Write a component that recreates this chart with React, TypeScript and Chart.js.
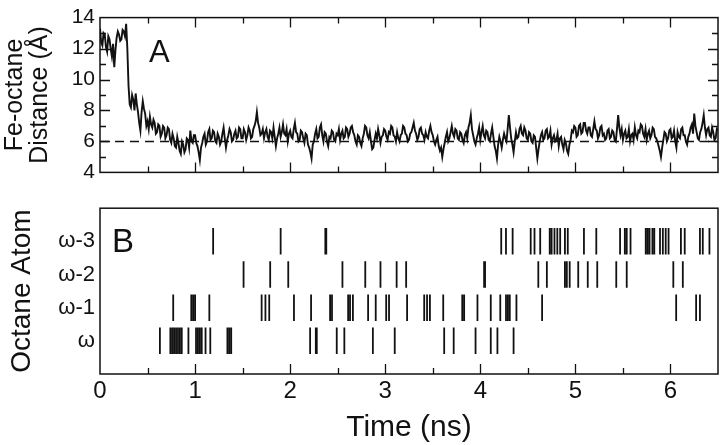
import React, { useEffect, useRef } from 'react';
import { Chart, registerables } from 'chart.js';

Chart.register(...registerables);

// ---------- data ----------
const TIME_MIN = 0;
const TIME_MAX = 6.5;
const TIME_STEP = 0.0125; // ns between samples of DISTANCE
const TIME_TICKS = [0, 1, 2, 3, 4, 5, 6];

// Fe–octane distance (Å), one row per 0.5 ns
const DISTANCE = [
  13.3, 12.4, 12.2, 13.0, 12.9, 12.1, 11.8, 12.8, 12.6, 12.0, 11.5, 12.3, 10.8, 11.9, 12.7, 13.1, 12.9, 12.5, 12.6, 13.2, 13.1, 12.8, 13.6, 12.0, 9.6, 8.4, 8.2, 9.0, 8.7, 8.0, 9.1, 8.4, 7.9, 7.2, 6.7, 7.9, 8.6, 8.1, 7.8, 7.0,
  7.3, 6.8, 7.6, 7.1, 6.9, 7.4, 7.2, 6.5, 6.6, 7.1, 7.0, 6.3, 6.5, 7.0, 6.9, 6.2, 6.4, 6.9, 6.8, 6.1, 5.9, 6.5, 6.2, 5.7, 5.6, 6.3, 5.9, 5.4, 5.2, 6.0, 5.8, 5.3, 5.5, 6.2, 6.1, 5.6, 6.7, 6.0, 5.9, 6.4,
  6.4, 5.9, 5.7, 5.3, 4.8, 5.6, 5.9, 6.3, 6.5, 5.8, 6.0, 6.6, 6.8, 6.1, 6.2, 6.7, 6.6, 6.0, 5.9, 6.5, 6.3, 5.8, 6.0, 6.5, 6.9, 6.2, 5.6, 6.1, 6.4, 6.8, 6.6, 6.0, 6.1, 6.5, 6.7, 6.2, 6.3, 6.9, 6.8, 6.2,
  6.2, 6.8, 6.6, 6.1, 6.4, 6.9, 6.7, 6.2, 6.3, 6.8, 7.0, 7.3, 7.9, 7.2, 6.9, 6.4, 6.5, 6.8, 6.2, 6.6, 6.8, 6.3, 6.1, 6.7, 6.6, 6.2, 6.9, 6.3, 5.7, 6.2, 6.5, 6.9, 6.3, 6.6, 7.1, 6.5, 6.4, 6.8, 6.0, 6.5,
  6.7, 6.3, 6.2, 6.8, 7.2, 6.6, 6.5, 6.0, 6.1, 6.7, 6.6, 6.2, 5.9, 6.5, 6.4, 5.8, 5.6, 5.3, 4.9, 5.8, 6.0, 6.5, 6.8, 6.2, 6.3, 6.9, 7.1, 6.4, 6.0, 6.6, 6.5, 6.0, 5.7, 6.3, 6.2, 6.7, 6.6, 6.1, 6.0, 6.5,
  6.4, 6.8, 6.1, 6.5, 6.7, 6.2, 6.3, 6.9, 6.8, 6.3, 6.5, 6.9, 7.0, 6.6, 6.4, 6.0, 5.8, 6.4, 6.3, 5.9, 5.7, 6.2, 6.5, 7.0, 6.9, 6.4, 6.2, 6.6, 6.0, 5.5, 5.6, 6.1, 6.5, 6.2, 6.8, 6.4, 5.9, 6.3, 6.4, 6.8,
  6.7, 6.3, 6.1, 6.6, 6.5, 7.0, 6.9, 6.4, 6.3, 6.0, 6.6, 6.2, 6.0, 6.4, 6.5, 7.0, 6.9, 6.5, 6.4, 6.0, 6.1, 6.5, 6.6, 6.9, 7.2, 6.7, 6.5, 6.1, 6.3, 6.8, 6.9, 6.5, 6.4, 6.1, 6.6, 6.3, 6.2, 6.7, 7.0, 6.6,
  6.4, 6.0, 5.8, 6.1, 6.3, 5.7, 5.4, 5.6, 5.0, 5.5, 5.9, 6.3, 6.6, 6.0, 6.2, 6.6, 7.0, 6.5, 6.3, 6.8, 6.7, 6.2, 6.1, 6.6, 6.5, 6.1, 5.9, 6.4, 6.6, 6.2, 6.9, 7.2, 7.7, 6.8, 6.4, 6.0, 5.8, 6.2, 6.5, 6.9,
  6.1, 6.6, 7.0, 6.4, 6.2, 6.7, 6.6, 6.1, 6.0, 6.5, 6.9, 6.3, 5.7, 5.4, 4.9, 5.8, 6.3, 6.0, 5.6, 6.1, 6.5, 6.2, 6.0, 6.8, 7.7, 6.9, 6.2, 5.8, 5.3, 6.0, 6.6, 6.2, 6.3, 6.8, 7.0, 6.5, 6.4, 6.9, 6.7, 6.2,
  6.1, 6.6, 6.5, 6.0, 5.9, 6.4, 6.3, 5.6, 4.9, 5.5, 6.0, 6.4, 6.6, 6.1, 6.2, 6.7, 6.8, 6.2, 6.3, 6.7, 5.8, 6.2, 6.4, 6.0, 6.1, 6.5, 5.7, 6.2, 6.3, 5.8, 5.5, 6.1, 5.9, 5.4, 5.2, 5.8, 6.1, 6.7, 6.6, 7.0,
  6.9, 6.3, 6.4, 7.0, 7.1, 6.5, 6.6, 7.2, 7.2, 6.7, 6.5, 6.9, 6.9, 6.4, 6.3, 6.8, 7.3, 6.8, 6.7, 6.2, 6.4, 6.9, 7.0, 6.4, 6.5, 6.1, 6.2, 6.7, 6.8, 6.2, 6.3, 6.7, 6.6, 6.1, 6.0, 6.8, 7.7, 6.9, 6.4, 6.8,
  6.1, 6.5, 6.7, 6.2, 6.3, 6.8, 6.0, 6.4, 6.5, 6.1, 6.9, 6.4, 6.2, 6.7, 6.6, 7.1, 7.0, 6.5, 6.3, 6.8, 6.1, 6.5, 6.7, 6.2, 6.4, 6.9, 6.8, 6.3, 6.2, 6.0, 5.7, 5.4, 5.0, 5.6, 6.1, 6.6, 6.5, 6.0, 6.2, 6.7,
  6.8, 6.2, 6.3, 6.7, 6.0, 5.6, 6.6, 6.3, 6.2, 6.8, 6.9, 6.4, 6.4, 6.0, 5.8, 6.3, 6.5, 6.9, 7.1, 6.5, 7.8, 7.0, 6.6, 6.2, 6.1, 6.6, 6.8, 7.2, 7.7, 6.9, 6.4, 6.8, 6.9, 6.4, 6.3, 6.9, 6.6, 6.1, 6.2, 6.8,
  6.7,
];
const REFERENCE_DISTANCE = 6;
const DISTANCE_TICKS = [4, 6, 8, 10, 12, 14];

// Panel B: contact events per octane atom (ns)
const ATOM_LABELS = ['ω', 'ω-1', 'ω-2', 'ω-3'];
const EVENTS_W = [
  0.63, 0.74, 0.76, 0.78, 0.8, 0.82, 0.84, 0.86, 0.93, 1.01, 1.03, 1.05, 1.07, 1.11, 1.16, 1.34, 1.36, 1.38,
  2.21, 2.27, 2.28, 2.49, 2.57, 2.87, 3.1, 3.62, 3.72, 3.95, 4.11, 4.18, 4.35,
];
const EVENTS_W1 = [
  0.77, 0.96, 0.98, 1.0, 1.15, 1.7, 1.74, 1.78, 2.04, 2.22, 2.42, 2.44, 2.61, 2.63, 2.66, 2.82, 2.9, 3.01, 3.04,
  3.23, 3.41, 3.44, 3.47, 3.61, 3.81, 3.83, 3.97, 4.11, 4.21, 4.27, 4.29, 4.31, 4.38, 4.65, 6.06, 6.27, 6.31,
];
const EVENTS_W2 = [
  1.51, 1.79, 1.98, 2.55, 2.79, 2.95, 3.12, 3.22, 4.04, 4.05, 4.61, 4.7, 4.89, 4.91, 4.94, 5.03, 5.13, 5.23,
  5.43, 5.54, 6.03, 6.13,
];
const EVENTS_W3 = [
  1.19, 1.9, 2.37, 2.38, 4.22, 4.27, 4.34, 4.53, 4.57, 4.63, 4.73, 4.75, 4.78, 4.81, 4.84, 4.89, 4.92, 5.09,
  5.22, 5.47, 5.52, 5.54, 5.58, 5.74, 5.76, 5.78, 5.81, 5.83, 5.89, 5.92, 5.95, 5.98, 6.11, 6.15, 6.31, 6.34,
  6.41,
];
const EVENT_ROWS = [EVENTS_W, EVENTS_W1, EVENTS_W2, EVENTS_W3];

// ---------- styling ----------
const FONT = "'Liberation Sans', Arial, Helvetica, sans-serif";
const INK = '#111';

type FrameOpts = {
  xSides: string[];
  ySides: string[];
  xStep: number;
  yStep: number;
  label: string;
  labelDx: number;
  labelDy: number;
  labelSize: number;
};

const framePlugin = {
  id: 'frameTicks',
  afterDatasetsDraw(chart: any, _args: any, opts: FrameOpts) {
    const { ctx, chartArea: a } = chart;
    const xs = chart.scales.x;
    const ys = chart.scales.y;
    ctx.save();
    ctx.strokeStyle = INK;
    ctx.lineWidth = 1.5;
    ctx.strokeRect(a.left, a.top, a.right - a.left, a.bottom - a.top);
    const MAJOR = 10;
    const MINOR = 6;
    ctx.lineWidth = 1.3;
    ctx.beginPath();
    if (opts.xSides.length) {
      const half = opts.xStep / 2;
      for (let v = xs.min + half; v < xs.max - 1e-6; v += half) {
        const r = (v - xs.min) / opts.xStep;
        const len = Math.abs(r - Math.round(r)) < 1e-6 ? MAJOR : MINOR;
        const px = Math.round(xs.getPixelForValue(v)) + 0.5;
        for (const s of opts.xSides) {
          if (s === 'bottom') { ctx.moveTo(px, a.bottom); ctx.lineTo(px, a.bottom - len); }
          else { ctx.moveTo(px, a.top); ctx.lineTo(px, a.top + len); }
        }
      }
    }
    if (opts.ySides.length) {
      const half = opts.yStep / 2;
      for (let v = ys.min + half; v < ys.max - 1e-6; v += half) {
        const r = (v - ys.min) / opts.yStep;
        const len = Math.abs(r - Math.round(r)) < 1e-6 ? MAJOR : MINOR;
        const py = Math.round(ys.getPixelForValue(v)) + 0.5;
        for (const s of opts.ySides) {
          if (s === 'left') { ctx.moveTo(a.left, py); ctx.lineTo(a.left + len, py); }
          else { ctx.moveTo(a.right, py); ctx.lineTo(a.right - len, py); }
        }
      }
    }
    ctx.stroke();
    ctx.fillStyle = INK;
    ctx.font = `${opts.labelSize}px ${FONT}`;
    ctx.textAlign = 'left';
    ctx.textBaseline = 'alphabetic';
    ctx.fillText(opts.label, a.left + opts.labelDx, a.top + opts.labelDy);
    ctx.restore();
  },
};

function TopPanel() {
  const ref = useRef<HTMLCanvasElement | null>(null);
  useEffect(() => {
    const points = DISTANCE.map((v, i) => ({ x: TIME_MIN + i * TIME_STEP, y: v }));
    const chart = new Chart(ref.current as HTMLCanvasElement, {
      type: 'line',
      data: {
        datasets: [
          {
            data: points,
            borderColor: INK,
            borderWidth: 1.9,
            pointRadius: 0,
            tension: 0,
          },
          {
            data: [
              { x: TIME_MIN, y: REFERENCE_DISTANCE },
              { x: TIME_MAX, y: REFERENCE_DISTANCE },
            ],
            borderColor: INK,
            borderWidth: 1.6,
            borderDash: [9, 6],
            pointRadius: 0,
          },
        ],
      },
      options: {
        responsive: false,
        animation: false,
        devicePixelRatio: 1,
        layout: { padding: { top: 10, bottom: 13, right: 2, left: 0 } },
        plugins: {
          legend: { display: false },
          tooltip: { enabled: false },
          frameTicks: {
            xSides: ['top', 'bottom'],
            ySides: ['left', 'right'],
            xStep: 1,
            yStep: 2,
            label: 'A',
            labelDx: 49,
            labelDy: 44,
            labelSize: 31,
          },
        } as any,
        scales: {
          x: {
            type: 'linear',
            min: TIME_MIN,
            max: TIME_MAX,
            display: false,
          },
          y: {
            type: 'linear',
            min: DISTANCE_TICKS[0],
            max: DISTANCE_TICKS[DISTANCE_TICKS.length - 1],
            afterFit: (s: any) => { s.width = 100; },
            grid: { display: false, drawTicks: false },
            border: { display: false },
            ticks: {
              stepSize: 2,
              padding: 5,
              color: INK,
              font: { family: FONT, size: 21 },
            },
            title: {
              display: true,
              text: ['Fe-octane', 'Distance (Å)'],
              color: INK,
              font: { family: FONT, size: 25, lineHeight: 1.0 },
              padding: { top: 3, bottom: 0 },
            },
          },
        },
      },
      plugins: [framePlugin],
    });
    return () => chart.destroy();
  }, []);
  return (
    <canvas
      ref={ref}
      width={720}
      height={190}
      style={{ position: 'absolute', left: 0, top: 0, width: 720, height: 190 }}
    />
  );
}

function BottomPanel() {
  const ref = useRef<HTMLCanvasElement | null>(null);
  useEffect(() => {
    const datasets = EVENT_ROWS.map((times, r) => {
      const row = r + 1;
      const data: any[] = [];
      times.forEach((t) => {
        data.push({ x: t, y: row - 0.4 });
        data.push({ x: t, y: row + 0.4 });
        data.push({ x: t, y: null });
      });
      return {
        data,
        borderColor: INK,
        borderWidth: 1.8,
        pointRadius: 0,
        spanGaps: false,
      };
    });
    const chart = new Chart(ref.current as HTMLCanvasElement, {
      type: 'line',
      data: { datasets },
      options: {
        responsive: false,
        animation: false,
        devicePixelRatio: 1,
        layout: { padding: { top: 16, bottom: 0, right: 2, left: 0 } },
        plugins: {
          legend: { display: false },
          tooltip: { enabled: false },
          frameTicks: {
            xSides: ['bottom'],
            ySides: [],
            xStep: 1,
            yStep: 1,
            label: 'B',
            labelDx: 12,
            labelDy: 44,
            labelSize: 33,
          },
        } as any,
        scales: {
          x: {
            type: 'linear',
            min: TIME_MIN,
            max: TIME_MAX,
            afterFit: (s: any) => { s.height = 71; },
            grid: { display: false, drawTicks: false },
            border: { display: false },
            ticks: {
              stepSize: 1,
              includeBounds: false,
              padding: 3,
              maxRotation: 0,
              color: INK,
              font: { family: FONT, size: 24 },
              callback: (v: any) => (TIME_TICKS.includes(Number(v)) ? String(v) : ''),
            },
            title: {
              display: true,
              text: 'Time (ns)',
              color: INK,
              font: { family: FONT, size: 30, lineHeight: 1.0 },
              padding: { top: 0, bottom: 2 },
            },
          },
          y: {
            type: 'linear',
            min: 0,
            max: ATOM_LABELS.length + 1,
            afterFit: (s: any) => { s.width = 100; },
            grid: { display: false, drawTicks: false },
            border: { display: false },
            ticks: {
              stepSize: 1,
              padding: 5,
              color: INK,
              font: { family: FONT, size: 22 },
              callback: (v: any) => {
                const i = Number(v) - 1;
                return i >= 0 && i < ATOM_LABELS.length ? ATOM_LABELS[i] : '';
              },
            },
            title: {
              display: true,
              text: 'Octane Atom',
              color: INK,
              font: { family: FONT, size: 28, lineHeight: 1.0 },
              padding: { top: 8, bottom: 0 },
            },
          },
        },
      },
      plugins: [framePlugin],
    });
    return () => chart.destroy();
  }, []);
  return (
    <canvas
      ref={ref}
      width={720}
      height={255}
      style={{ position: 'absolute', left: 0, top: 190, width: 720, height: 255 }}
    />
  );
}

export default function App() {
  return (
    <div
      style={{
        position: 'absolute',
        left: 0,
        top: 0,
        width: 720,
        height: 445,
        background: '#fff',
        overflow: 'hidden',
      }}
    >
      <TopPanel />
      <BottomPanel />
    </div>
  );
}
